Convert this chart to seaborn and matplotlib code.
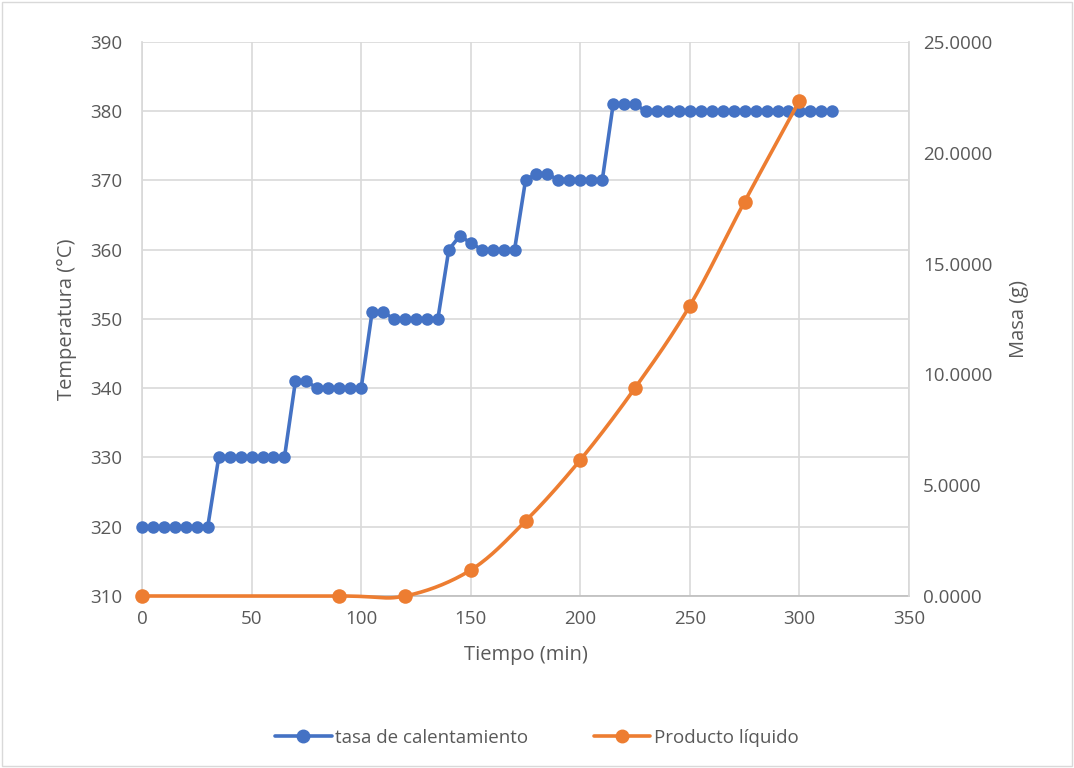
import numpy as np
import pandas as pd
import matplotlib
matplotlib.use("Agg")
import matplotlib.pyplot as plt
from matplotlib.lines import Line2D
from matplotlib.ticker import FormatStrFormatter
import seaborn as sns

# heating rate data (every 5 min)
tiempo_temp = list(range(0, 320, 5))
temperatura = ([320] * 7 + [330] * 7 +
               [341, 341, 340, 340, 340, 340, 340] +
               [351, 351, 350, 350, 350, 350, 350] +
               [360, 362, 361, 360, 360, 360, 360] +
               [370, 371, 371, 370, 370, 370, 370, 370] +
               [381, 381, 381] + [380] * 18)

# liquid product mass
tiempo_masa = [0, 90, 120, 150, 175, 200, 225, 250, 275, 300]
masa = [0.0, 0.0, 0.0, 1.17, 3.38, 6.14, 9.39, 13.1, 17.8, 22.35]

azul = "#4472C4"
naranja = "#ED7D31"
gris = "#595959"


def smooth(x, y, n=30):
    # catmull-rom style curve like excel "smoothed line"
    x = np.asarray(x, float)
    y = np.asarray(y, float)
    px = np.concatenate([[2 * x[0] - x[1]], x, [2 * x[-1] - x[-2]]])
    py = np.concatenate([[2 * y[0] - y[1]], y, [2 * y[-1] - y[-2]]])
    xs, ys = [], []
    for i in range(1, len(px) - 2):
        p0, p1, p2, p3 = (np.array([px[j], py[j]]) for j in range(i - 1, i + 3))
        c1 = p1 + (p2 - p0) / 6
        c2 = p2 - (p3 - p1) / 6
        t = np.linspace(0, 1, n)[:, None]
        pts = ((1 - t) ** 3) * p1 + 3 * ((1 - t) ** 2) * t * c1 + 3 * (1 - t) * t ** 2 * c2 + t ** 3 * p2
        xs.extend(pts[:, 0])
        ys.extend(pts[:, 1])
    return np.array(xs), np.array(ys)


sns.set_theme(style="white")
plt.rcParams['font.family'] = ['Open Sans', 'DejaVu Sans']

fig = plt.figure(figsize=(10.74, 7.68), dpi=100)
ax = fig.add_axes([142 / 1074, 1 - 596 / 768, (909 - 142) / 1074, (596 - 42) / 768])
ax2 = ax.twinx()

df_t = pd.DataFrame({"t": tiempo_temp, "T": temperatura})
sns.lineplot(data=df_t, x="t", y="T", ax=ax, color=azul, lw=2.6, marker="o",
             markersize=9, markeredgewidth=0, zorder=3, clip_on=False)

sx, sy = smooth(tiempo_masa, masa)
sns.lineplot(x=sx, y=sy, ax=ax2, color=naranja, lw=2.6, sort=False, estimator=None,
             clip_on=False)
sns.scatterplot(x=tiempo_masa, y=masa, ax=ax2, color=naranja, s=110, linewidth=0,
                zorder=4, clip_on=False)

ax.set_xlim(0, 350)
ax.set_ylim(310, 390)
ax.set_xticks(range(0, 351, 50))
ax.set_yticks(range(310, 391, 10))
ax2.set_ylim(0, 25)
ax2.set_yticks(np.arange(0, 25.1, 5))
ax2.yaxis.set_major_formatter(FormatStrFormatter('%.4f'))

ax.grid(True, color="#D9D9D9", lw=1.2)
ax.set_axisbelow(True)
for a in (ax, ax2):
    for s in a.spines.values():
        s.set_visible(False)
    a.tick_params(length=0, labelsize=13.5, colors=gris)
ax.spines["bottom"].set_visible(True)
ax.spines["bottom"].set_color("#BFBFBF")
ax.spines["left"].set_visible(True)
ax.spines["left"].set_color("#D9D9D9")
ax2.spines["right"].set_visible(True)
ax2.spines["right"].set_color("#D9D9D9")
ax.tick_params(axis="x", pad=10)
ax.tick_params(axis="y", pad=14)
ax2.tick_params(axis="y", pad=10)

ax.set_xlabel("Tiempo (min)", fontsize=14.5, color=gris, labelpad=12)
ax.set_ylabel("Temperatura (°C)", fontsize=14.5, color=gris, labelpad=10)
ax2.set_ylabel("Masa (g)", fontsize=14.5, color=gris, labelpad=12)

handles = [Line2D([], [], color=azul, lw=2.6, marker="o", markersize=9),
           Line2D([], [], color=naranja, lw=2.6, marker="o", markersize=9)]
fig.legend(handles, ["tasa de calentamiento", "Producto líquido"], loc="center",
           bbox_to_anchor=(0.5, 1 - 738 / 768), ncol=2, frameon=False,
           fontsize=13.5, labelcolor=gris, handlelength=3, handletextpad=0.2,
           columnspacing=3.5)

fig.patches.append(plt.Rectangle((0.002, 0.002), 0.996, 0.996, transform=fig.transFigure,
                                 fill=False, edgecolor="#D9D9D9", lw=1))

fig.savefig("out.png", dpi=100)
